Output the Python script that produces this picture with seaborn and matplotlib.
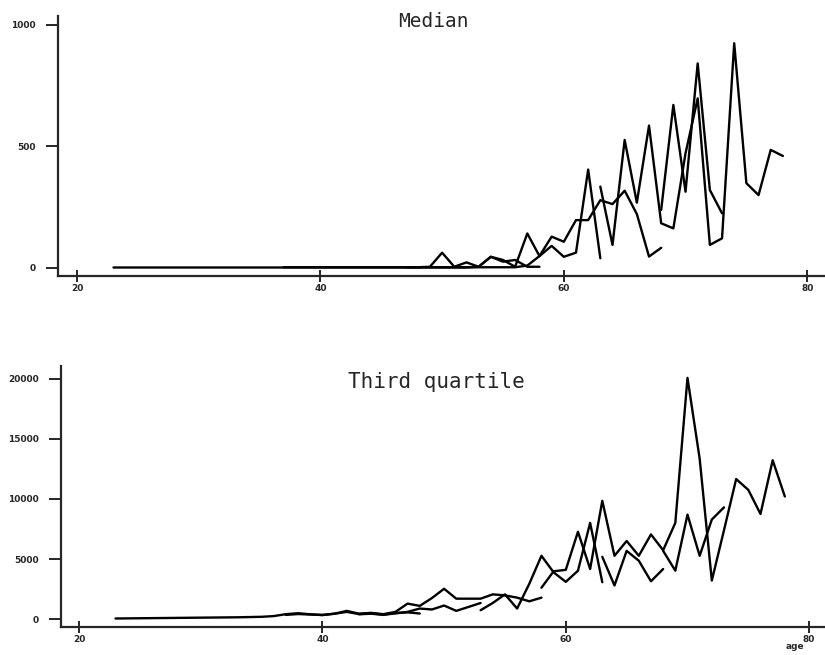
import pandas as pd
import matplotlib.pyplot as plt
import seaborn as sns

# Median panel, one series per cohort
med_a_age = list(range(23, 59))
med_a = [2, 2, 2, 2, 2, 2, 2, 2, 2, 2, 2, 2, 2, 2, 2, 2, 2, 2, 2, 2,
         2, 2, 2, 2, 2, 2, 2, 2, 2, 2, 5, 46, 26, 33, 5, 5]
med_b_age = list(range(37, 69))
med_b = [3, 3, 3, 3, 3, 3, 3, 3, 3, 3, 3, 3, 5, 63, 5, 23, 5, 46, 33, 5,
         142, 49, 129, 108, 197, 197, 279, 263, 318, 222, 47, 83]
med_c_age = list(range(47, 64))
med_c = [3, 3, 3, 3, 3, 3, 3, 3, 3, 3, 10, 49, 91, 46, 63, 405, 40]
med_d_age = list(range(63, 79))
med_d = [335, 95, 527, 269, 586, 184, 163, 472, 698, 95, 122, 925, 349, 300, 486, 461]
med_e_age = list(range(68, 74))
med_e = [239, 671, 314, 842, 321, 225]

# Third quartile panel
q3_a_age = list(range(23, 59))
q3_a = [50, 60, 70, 80, 90, 100, 110, 120, 130, 140, 150, 170, 190, 250,
        410, 490, 400, 330, 450, 685, 450, 520, 410, 600, 1290, 1100, 1750, 2525,
        1700, 1700, 1700, 2060, 1975, 1785, 1480, 1785]
q3_b_age = list(range(37, 49))
q3_b = [350, 420, 380, 350, 450, 600, 420, 480, 380, 500, 560, 465]
q3_c_age = list(range(43, 54))
q3_c = [400, 450, 350, 480, 600, 880, 800, 1130, 685, 1010, 1340]
q3_d_age = list(range(53, 64))
q3_d = [740, 1340, 2060, 880, 2935, 5270, 3890, 3100, 4030, 8010, 3070]
q3_e_age = list(range(58, 79))
q3_e = [2610, 3980, 4100, 7270, 4170, 9850, 5270, 6500, 5270, 7050, 5735, 8010,
        20082, 13358, 3210, 7400, 11660, 10754, 8750, 13224, 10206]
q3_f_age = list(range(63, 69))
q3_f = [5185, 2800, 5680, 4860, 3150, 4170]
q3_g_age = list(range(68, 74))
q3_g = [5680, 4030, 8700, 5270, 8290, 9300]


def to_long(pairs):
    frames = []
    for i, (ages, vals) in enumerate(pairs):
        frames.append(pd.DataFrame({"age": ages, "value": vals, "cohort": i}))
    return pd.concat(frames, ignore_index=True)


med_df = to_long([(med_a_age, med_a), (med_b_age, med_b), (med_c_age, med_c),
                  (med_d_age, med_d), (med_e_age, med_e)])
q3_df = to_long([(q3_a_age, q3_a), (q3_b_age, q3_b), (q3_c_age, q3_c),
                 (q3_d_age, q3_d), (q3_e_age, q3_e), (q3_f_age, q3_f),
                 (q3_g_age, q3_g)])

sns.set_style("ticks")
plt.rcParams["font.family"] = ["DejaVu Sans"]

fig = plt.figure(figsize=(8.25, 6.55), dpi=100)
ax1 = fig.add_axes([58 / 825, 1 - 276 / 655, 1 - 58 / 825, 260 / 655])
ax2 = fig.add_axes([61 / 825, 1 - 627 / 655, 1 - 61 / 825, 261 / 655])

panels = [
    (ax1, med_df, (-33, 1037), [0, 500, 1000], (18.44, 81.46), "Median", (0.489, 0.98), 14),
    (ax2, q3_df, (-658, 21070), [0, 5000, 10000, 15000, 20000], (18.52, 81.3),
     "Third quartile", (0.491, 0.939), 15),
]

for ax, df, ylim, yticks, xlim, title, tpos, tsize in panels:
    sns.lineplot(data=df, x="age", y="value", units="cohort", estimator=None,
                 color="black", linewidth=1.7, ax=ax, legend=False)
    ax.set_xlim(*xlim)
    ax.set_ylim(*ylim)
    ax.set_xticks([20, 40, 60, 80])
    ax.set_yticks(yticks)
    ax.set_xlabel("")
    ax.set_ylabel("")
    for side in ["top", "right"]:
        ax.spines[side].set_visible(False)
    for side in ["left", "bottom"]:
        ax.spines[side].set_linewidth(1.6)
    ax.tick_params(axis="y", direction="out", length=9, width=1.4, pad=7)
    ax.tick_params(axis="x", direction="inout", length=8, width=1.4, pad=2)
    for lab in ax.get_xticklabels() + ax.get_yticklabels():
        lab.set_fontsize(6.5)
        lab.set_fontweight("bold")
    ax.text(tpos[0], tpos[1], title, transform=ax.transAxes, ha="center", va="center",
            fontsize=tsize, family="DejaVu Sans Mono")

ax2.set_xlabel("age", fontsize=6.5, fontweight="bold")
ax2.xaxis.set_label_coords((795 - 61) / 764, -0.058)

fig.savefig("out.png", dpi=100)
